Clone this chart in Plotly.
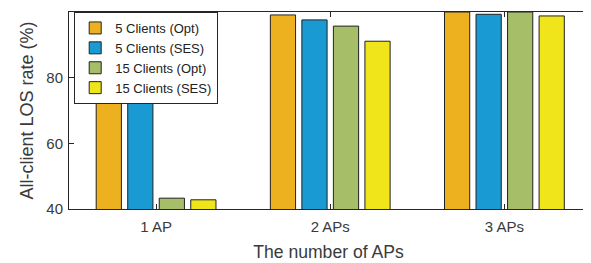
import plotly.graph_objects as go

categories = ["1 AP", "2 APs", "3 APs"]
cat_pos = [1, 2, 3]
series_names = ["5 Clients (Opt)", "5 Clients (SES)", "15 Clients (Opt)", "15 Clients (SES)"]
opt5 = [77.7, 99.1, 100.0]
ses5 = [77.7, 97.6, 99.3]
opt15 = [43.3, 95.7, 100.0]
ses15 = [42.8, 91.1, 98.8]
colors = ["#EDB120", "#1A9AD2", "#A6BE68", "#EFE51A"]
y_ticks = [40, 60, 80, 100]

FONT = "Liberation Sans, Arial, sans-serif"

fig = go.Figure()
for name, vals, col in zip(series_names, [opt5, ses5, opt15, ses15], colors):
    fig.add_trace(go.Bar(
        x=cat_pos, y=vals, name=name, base=0,
        marker=dict(color=col, line=dict(color="#222222", width=1)),
    ))

axis_common = dict(
    showline=True, linecolor="#262626", linewidth=1, mirror="ticks",
    ticks="inside", ticklen=5, tickcolor="#262626",
    showgrid=False, zeroline=False, automargin=False,
    tickfont=dict(family=FONT, size=15, color="#3a3a3a"),
)

# page body has an 8px default margin, so the figure is sized/offset to compensate
fig.update_layout(
    width=583, height=255,
    margin=dict(l=61, r=3, t=4, b=54),
    paper_bgcolor="white", plot_bgcolor="white",
    barmode="group", bargap=0.276, bargroupgap=0.2,
    font=dict(family=FONT, color="#3a3a3a"),
    xaxis=dict(
        range=[0.5, 3.48], tickvals=cat_pos, ticktext=categories,
        title=dict(text="The number of APs", font=dict(size=17.6, color="#3a3a3a"), standoff=11),
        ticklabelstandoff=4,
        **axis_common,
    ),
    yaxis=dict(
        range=[40, 100], tickvals=y_ticks,
        title=dict(text="All-client LOS rate (%)", font=dict(size=18, color="#3a3a3a"), standoff=8),
        ticklabelstandoff=2,
        **axis_common,
    ),
    legend=dict(
        x=0.01, y=1.0, xanchor="left", yanchor="top",
        bgcolor="white", bordercolor="#262626", borderwidth=1,
        font=dict(size=13, color="#222222"),
        tracegroupgap=0, itemwidth=30,
    ),
    showlegend=True,
)

fig.write_html("out.html")
